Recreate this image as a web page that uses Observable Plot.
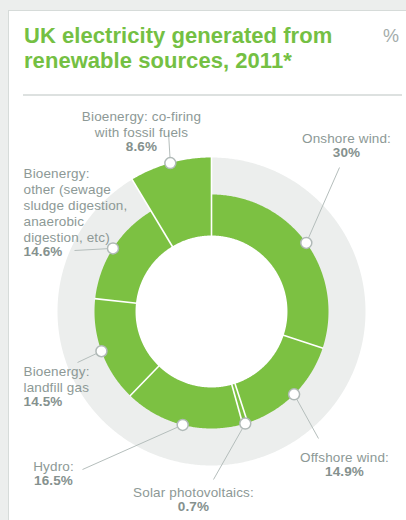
<!DOCTYPE html>
<html>
<head>
<meta charset="utf-8">
<script src="https://cdn.jsdelivr.net/npm/d3@7"></script>
<script src="https://cdn.jsdelivr.net/npm/@observablehq/plot@0.6"></script>
<style>
  html, body { margin: 0; padding: 0; }
  body { width: 406px; height: 520px; background: #eceeed; position: relative; overflow: hidden; font-family: "Liberation Sans", Arial, sans-serif; }
  #card { position: absolute; left: 8px; top: 10px; width: 420px; height: 530px; background: #fff; border: 1px solid #d6dbd9; box-sizing: border-box; }
  #title { position: absolute; left: 15px; top: 11.5px; margin: 0; font: 700 22px/25px "Liberation Sans", Arial, sans-serif; color: #74c043; letter-spacing: 0.05px; }
  #unit { position: absolute; left: 374px; top: 15px; font: 400 18px "Liberation Sans", Arial, sans-serif; color: #a3acaa; }
  #rule { position: absolute; left: 14px; top: 83px; width: 379px; height: 2px; background: #dde1e0; }
  #chart { position: absolute; left: 0; top: 96px; }
  #chart text { letter-spacing: 0.15px; }
</style>
</head>
<body>
<div id="card">
  <h1 id="title">UK electricity generated from<br>renewable sources, 2011*</h1>
  <div id="unit">%</div>
  <div id="rule"></div>
</div>
<div id="chart"></div>
<script>
// Sources in clockwise order from twelve o'clock
const sources = [
  "Onshore wind",
  "Offshore wind",
  "Solar photovoltaics",
  "Hydro",
  "Bioenergy: landfill gas",
  "Bioenergy: other (sewage sludge digestion, anaerobic digestion, etc)",
  "Bioenergy: co-firing with fossil fuels"
];
// Share of renewable generation, %
const shares = [30, 14.9, 0.7, 16.5, 14.5, 14.6, 8.6];
// Label text as set on the chart
const labelLines = [
  ["Onshore wind:"],
  ["Offshore wind:"],
  ["Solar photovoltaics:"],
  ["Hydro:"],
  ["Bioenergy:", "landfill gas"],
  ["Bioenergy:", "other (sewage", "sludge digestion,", "anaerobic", "digestion, etc)"],
  ["Bioenergy: co-firing", "with fossil fuels"]
];
const valueLabels = ["30%", "14.9%", "0.7%", "16.5%", "14.5%", "14.6%", "8.6%"];
const pulledOut = "Bioenergy: co-firing with fossil fuels";

// ---- layout (pixels) ----
const W = 406, H = 424, TOP = 96;
const CX = 211, CY = 311;              // ring centre on the page
const R_IN = 76, R_OUT = 117, R_BG = 154;
const GREEN = "#7cc142", RING = "#eceeed", TEXT = "#8d9996", LEADER = "#b5bebc";
const FS = 13.5, LH = 15.8;

// label placement: first-line centre, anchor and leader end (page pixels)
const labelLayout = [
  {tx: 346, ty: 137, anchor: "middle", lx: 339, ly: 167},
  {tx: 344, ty: 456, anchor: "middle", lx: 318, ly: 438},
  {tx: 193, ty: 491, anchor: "middle", lx: 213, ly: 479},
  {tx: 53,  ty: 465, anchor: "middle", lx: 82,  ly: 469},
  {tx: 23,  ty: 370, anchor: "start",  lx: 77,  ly: 362},
  {tx: 23,  ty: 172, anchor: "start",  lx: 74,  ly: 250},
  {tx: 141, ty: 115, anchor: "middle", lx: 168, ly: 132}
];

// page pixel -> chart coordinates (centre at origin, y up)
const px = (x) => x - CX;
const py = (y) => CY - y;
const polar = (r, deg) => {
  const a = deg * Math.PI / 180;
  return {x: r * Math.sin(a), y: r * Math.cos(a)};
};

const total = d3.sum(shares);
const cum = d3.cumsum(shares);
const slices = sources.map((name, i) => {
  const a0 = (i === 0 ? 0 : cum[i - 1]) / total * 360;
  const a1 = cum[i] / total * 360;
  return {name, value: shares[i], a0, a1, mid: (a0 + a1) / 2,
          rOut: name === pulledOut ? R_BG : R_OUT};
});

// annular sector outlines
const slicePts = [];
for (const s of slices) {
  const n = Math.max(2, Math.ceil((s.a1 - s.a0) * 2));
  for (let k = 0; k <= n; k++) slicePts.push({key: s.name, ...polar(s.rOut, s.a0 + (s.a1 - s.a0) * k / n)});
  for (let k = n; k >= 0; k--) slicePts.push({key: s.name, ...polar(R_IN, s.a0 + (s.a1 - s.a0) * k / n)});
}

// grey backing ring
const ringPts = [];
for (let k = 0; k <= 720; k++) ringPts.push(polar(R_BG, k / 2));
for (let k = 720; k >= 0; k--) ringPts.push(polar(R_IN, k / 2));

// white separators between neighbouring sectors
const seps = slices.map((s, i) => {
  const prev = slices[(i + slices.length - 1) % slices.length];
  const p0 = polar(R_IN - 1, s.a0), p1 = polar(Math.max(s.rOut, prev.rOut) + 0.5, s.a0);
  return {x1: p0.x, y1: p0.y, x2: p1.x, y2: p1.y};
});

const markers = slices.map((s) => polar(s.rOut, s.mid));
const leaders = markers.map((m, i) => ({x1: m.x, y1: m.y, x2: px(labelLayout[i].lx), y2: py(labelLayout[i].ly)}));

const labels = labelLines.map((lines, i) => {
  const L = labelLayout[i];
  return {
    text: lines.join("\n"),
    value: valueLabels[i],
    x: px(L.tx),
    y: py(L.ty - 0.4 * FS),
    vy: py(L.ty + lines.length * LH - 0.4 * FS),
    anchor: L.anchor
  };
});

const font = "'Liberation Sans', Arial, sans-serif";
const chart = Plot.plot({
  width: W,
  height: H,
  margin: 0,
  x: {domain: [-CX, W - CX], range: [0, W], axis: null},
  y: {domain: [CY - TOP - H, CY - TOP], range: [H, 0], axis: null},
  style: {fontFamily: font, background: "transparent"},
  marks: [
    Plot.line(ringPts, {x: "x", y: "y", fill: RING, stroke: "none", curve: "linear-closed"}),
    Plot.line(slicePts, {x: "x", y: "y", z: "key", fill: GREEN, stroke: "none", curve: "linear-closed"}),
    Plot.link(seps, {x1: "x1", y1: "y1", x2: "x2", y2: "y2", stroke: "white", strokeWidth: 1.6}),
    Plot.link(leaders, {x1: "x1", y1: "y1", x2: "x2", y2: "y2", stroke: LEADER, strokeWidth: 1}),
    Plot.dot(markers, {x: "x", y: "y", r: 5.5, fill: "white", stroke: "#b0b9b7", strokeWidth: 1.5}),
    Plot.text(labels.filter(d => d.anchor === "start"), {x: "x", y: "y", text: "text", textAnchor: "start", lineAnchor: "top", lineHeight: LH / FS, fontSize: FS, fill: TEXT}),
    Plot.text(labels.filter(d => d.anchor === "middle"), {x: "x", y: "y", text: "text", textAnchor: "middle", lineAnchor: "top", lineHeight: LH / FS, fontSize: FS, fill: TEXT}),
    Plot.text(labels.filter(d => d.anchor === "start"), {x: "x", y: "vy", text: "value", textAnchor: "start", lineAnchor: "top", fontSize: FS, fontWeight: 700, fill: "#85918e"}),
    Plot.text(labels.filter(d => d.anchor === "middle"), {x: "x", y: "vy", text: "value", textAnchor: "middle", lineAnchor: "top", fontSize: FS, fontWeight: 700, fill: "#85918e"})
  ]
});
document.getElementById("chart").append(chart);
</script>
</body>
</html>
